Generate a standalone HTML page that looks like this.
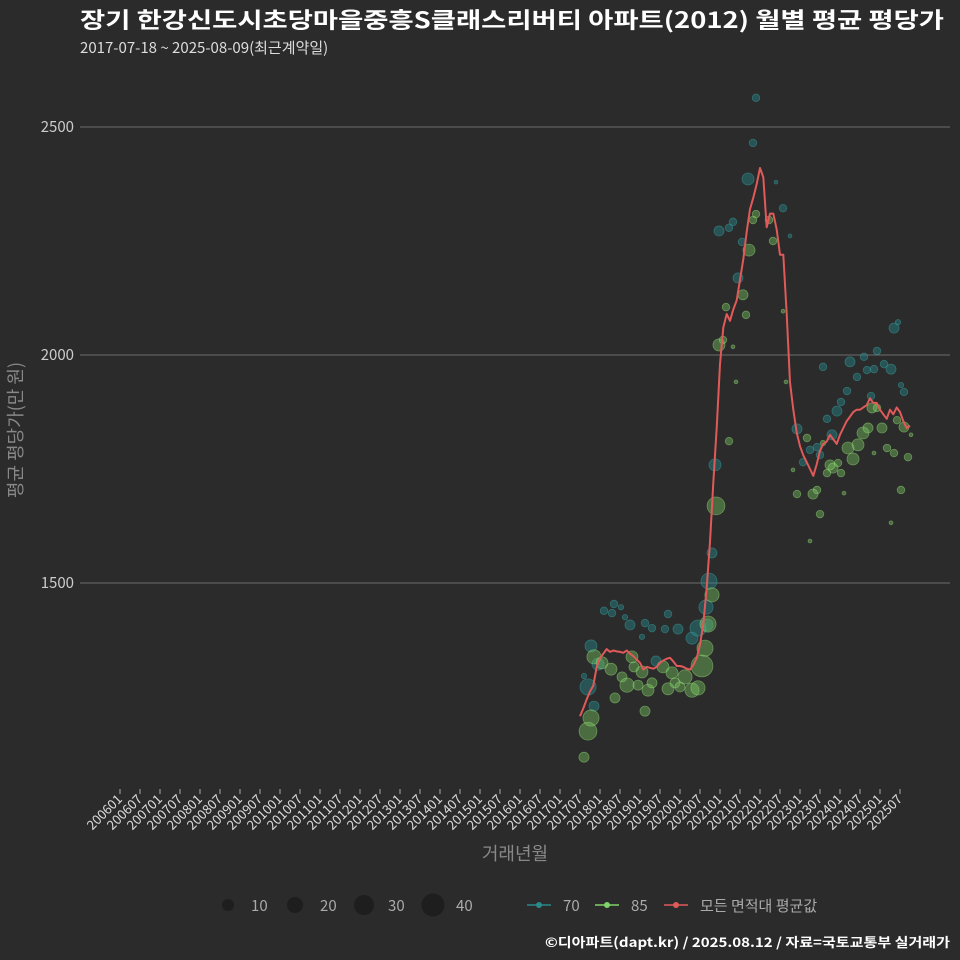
<!DOCTYPE html>
<html><head><meta charset="utf-8"><style>
body{margin:0;background:#2b2b2b;}
svg{display:block;font-family:"Noto Sans CJK KR","Liberation Sans",sans-serif;}
</style></head><body>
<svg id="chart" width="960" height="960">
<rect width="960" height="960" fill="#2b2b2b"/>
<text x="80" y="28" fill="#fff" font-size="22" font-weight="bold" textLength="864" lengthAdjust="spacingAndGlyphs">장기 한강신도시초당마을중흥S클래스리버티 아파트(2012) 월별 평균 평당가</text>
<text x="80" y="53" fill="#ddd" font-size="15">2017-07-18 ~ 2025-08-09(최근계약일)</text>
<g id="grid"></g><g id="pts"></g><g id="line"></g><g id="axes"></g>
<text transform="translate(22,430) rotate(-90)" text-anchor="middle" fill="#888" font-size="18">평균 평당가(만 원)</text>
<text x="515" y="860" text-anchor="middle" fill="#888" font-size="18">거래년월</text>
<g font-size="15" fill="#aaa">
<circle cx="228" cy="905" r="6" fill="#1e1e1e"/><text x="251" y="911">10</text>
<circle cx="295" cy="905" r="8" fill="#1e1e1e"/><text x="320" y="911">20</text>
<circle cx="364" cy="905" r="10" fill="#1e1e1e"/><text x="388" y="911">30</text>
<circle cx="433" cy="905" r="11.5" fill="#1e1e1e"/><text x="456" y="911">40</text>
<line x1="527" y1="905" x2="551" y2="905" stroke="#2a8a8a" stroke-width="1.5"/><circle cx="539" cy="905" r="3" fill="#2a8a8a"/><text x="563" y="911">70</text>
<line x1="595" y1="905" x2="619" y2="905" stroke="#7fd36a" stroke-width="1.5"/><circle cx="607" cy="905" r="3" fill="#7fd36a"/><text x="631" y="911">85</text>
<line x1="664" y1="905" x2="688" y2="905" stroke="#e05a5a" stroke-width="1.5"/><circle cx="676" cy="905" r="3" fill="#e05a5a"/><text x="700" y="911">모든 면적대 평균값</text>
</g>
<text x="950" y="947" text-anchor="end" fill="#fff" font-size="13" font-weight="bold" textLength="405" lengthAdjust="spacingAndGlyphs">©디아파트(dapt.kr) / 2025.08.12 / 자료=국토교통부 실거래가</text>
</svg>
<script>
const yTicks=[1500,2000,2500];
const lineStart=138;
const lineVals=[1208,1225,1245,1262,1275,1316,1335,1345,1355,1349,1352,1350,1349,1347,1352,1345,1340,1332,1325,1310,1316,1314,1312,1316,1325,1330,1334,1336,1328,1318,1318,1316,1312,1310,1320,1335,1365,1410,1490,1590,1720,1840,1980,2060,2090,2075,2100,2120,2165,2210,2270,2320,2345,2375,2410,2390,2280,2310,2310,2275,2220,2220,2090,1940,1880,1830,1800,1780,1765,1750,1735,1760,1790,1805,1810,1825,1815,1805,1825,1840,1855,1865,1875,1880,1880,1885,1890,1905,1895,1895,1880,1870,1860,1880,1870,1885,1875,1855,1840,1845];
const g85Month=[1.2,2.4,3.3,4.2,6.6,9.3,12.6,14.1,17.4,10.5,19.5,15.6,16.2,18.6,20.4,21.6,24.9,27.6,26.4,28.5,30,31.5,33.6,35.4,36.6,37.5,38.4,39.6,40.8,44.7,46.8,45.9,41.7,42.9,43.8,49.8,48.9,50.7,57.9,51.9,52.8,56.7,60.9,61.8,63.9,65.1,69.9,71.1,72,69,68.1,72.9,75,75.9,77.4,78.3,74.1,79.2,80.4,81.9,83.4,84.9,86.4,88.2,87.6,89.1,90.6,92.1,94.2,96.3,93.3,95.1,97.2,98.4,99.3];
const g85Val=[1118,1175,1204,1338,1325,1311,1294,1276,1276,1248,1219,1338,1316,1305,1265,1281,1316,1303,1268,1281,1272,1294,1265,1270,1318,1357,1410,1474,1669,1811,1941,2018,2022,2033,2105,2088,2132,2230,2250,2296,2309,2296,2096,1941,1748,1695,1695,1704,1651,1592,1818,1807,1759,1752,1763,1741,1741,1697,1796,1772,1803,1829,1840,1785,1884,1884,1840,1796,1785,1704,1632,1857,1842,1776,1825];
const g85Cnt=[7,22,18,14,10,10,7,14,7,7,7,10,7,10,10,7,10,10,10,7,7,14,14,14,33,18,18,14,22,4,1,1,10,4,4,4,7,10,4,4,4,4,1,1,1,4,7,4,4,1,4,2,7,7,4,4,4,1,10,10,10,10,7,1,7,4,7,4,4,4,1,4,7,4,1];
const g70Month=[2.4,3.3,4.2,1.2,5.4,7.2,10.2,9.6,12.3,13.5,15,19.5,21.6,25.5,26.4,29.4,18.6,22.8,33.6,35.4,38.1,37.8,38.7,52.8,51.9,50.4,58.8,60.9,41.7,44.7,45.9,48.6,47.4,63,40.5,39.6,65.1,66.9,69,71.1,72,72.9,74.1,75.6,77.1,78.3,80.1,81,83.1,85.2,86.1,88.2,89.1,91.2,93.3,94.2,95.4,96.3,97.2,87.3];
const g70Val=[1272,1362,1230,1296,1322,1439,1454,1434,1447,1425,1408,1412,1401,1399,1432,1399,1382,1329,1379,1401,1408,1447,1504,2564,2465,2386,2379,2322,2272,2279,2292,2248,2169,2261,1759,1566,1838,1765,1792,1798,1781,1974,1860,1825,1877,1897,1921,1985,1952,1996,1967,1969,2009,1980,1969,2059,2072,1934,1919,1910];
const g70Cnt=[18,10,7,2,10,4,4,4,2,2,7,4,4,4,4,7,2,7,10,18,10,14,18,4,4,10,1,4,7,4,4,4,7,1,10,7,7,4,4,4,4,4,4,7,7,4,4,7,4,4,4,4,4,4,7,7,2,2,4,4];
const xTickLabels=[];for(let y=2006;y<=2025;y++){xTickLabels.push(y+'01');xTickLabels.push(y+'07');}

const NS='http://www.w3.org/2000/svg';
const xs=m=>120+m*10/3;
const ys=v=>355-(v-2000)*0.456;
const rs=c=>1.9*Math.sqrt(c);
function mk(t,a,p){const e=document.createElementNS(NS,t);for(const k in a)e.setAttribute(k,a[k]);p.appendChild(e);return e;}
const grid=document.getElementById('grid'),axes=document.getElementById('axes'),pts=document.getElementById('pts'),ln=document.getElementById('line');
yTicks.forEach(v=>{
 const l=mk('line',{x1:80,x2:950,y1:ys(v),y2:ys(v),stroke:'#6e6e6e','stroke-width':1},grid);
 
 
 const t=mk('text',{x:74,y:ys(v)+5,'text-anchor':'end',fill:'#ccc','font-size':15},axes);t.textContent=v;
 
 
});
xTickLabels.forEach((lab,i)=>{
 const x=xs(i*6);
 const tk=mk('line',{x1:x,x2:x,y1:789,y2:794,stroke:'#aaa'},axes);
 
 
 const t=mk('text',{transform:`translate(${x+3},${800}) rotate(-45)`,'text-anchor':'end',fill:'#ddd','font-size':13},axes);t.textContent=lab;
 
 
});
function drawPts(ms,vs,cs,fill,stroke,name){
 ms.forEach((m,i)=>{
  const c=mk('circle',{cx:xs(lineStart+m),cy:ys(vs[i]),r:rs(cs[i]),fill:fill,stroke:stroke,'stroke-width':0.8},pts);
  
  
 });
}
drawPts(g70Month,g70Val,g70Cnt,'rgba(40,135,140,0.45)','rgba(60,160,160,0.5)','area-70');
drawPts(g85Month,g85Val,g85Cnt,'rgba(125,205,100,0.4)','rgba(150,220,120,0.5)','area-85');
const d=lineVals.map((v,i)=>(i?'L':'M')+xs(lineStart+i).toFixed(1)+','+ys(v).toFixed(1)).join('');
const p=mk('path',{d:d,fill:'none',stroke:'#e05a5a','stroke-width':2,'stroke-linejoin':'round'},ln);


</script>
</body></html>
